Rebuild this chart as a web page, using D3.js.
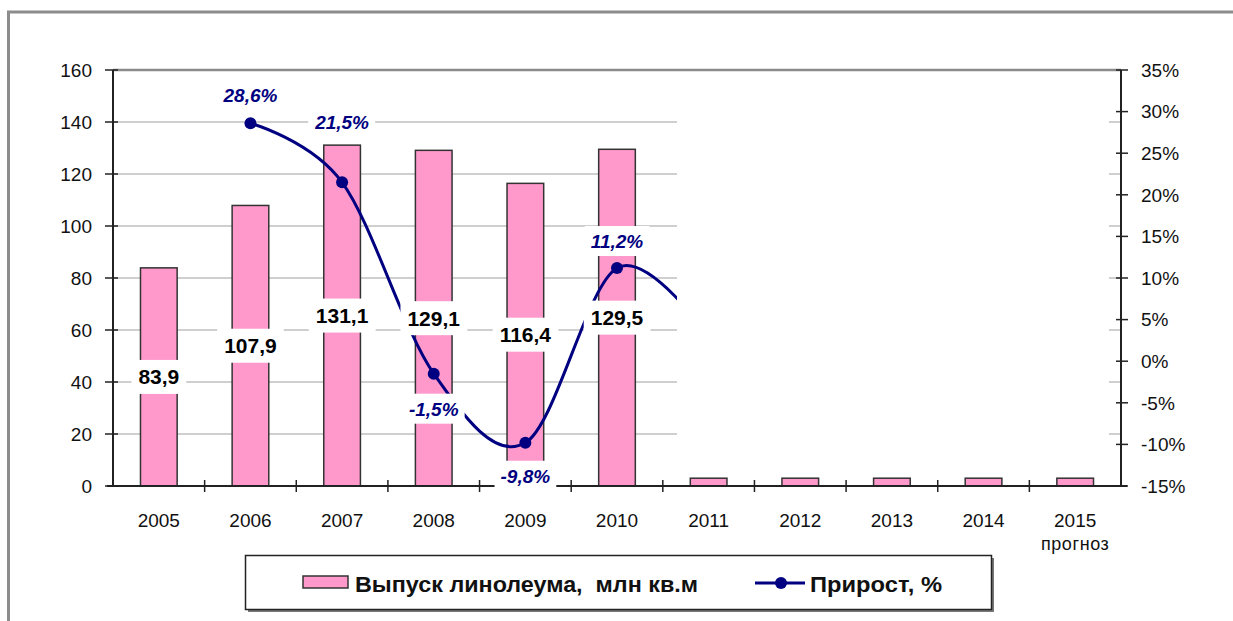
<!DOCTYPE html>
<html>
<head>
<meta charset="utf-8">
<script src="https://cdn.jsdelivr.net/npm/d3@7"></script>
<style>
  body { margin: 0; background: #fff; }
  svg { display: block; font-family: "Liberation Sans", Arial, sans-serif; }
</style>
</head>
<body>
<div id="chart"></div>
<script>
// data
var years = ["2005", "2006", "2007", "2008", "2009", "2010", "2011", "2012", "2013", "2014", "2015"];
var output = [83.9, 107.9, 131.1, 129.1, 116.4, 129.5, 3, 3, 3, 3, 3];   // млн кв.м
var outputLabels = ["83,9", "107,9", "131,1", "129,1", "116,4", "129,5"];
var growthYears = ["2006", "2007", "2008", "2009", "2010", "2011"];
var growth = [28.6, 21.5, -1.5, -9.8, 11.2, 3.0];   // 2011 is hidden behind the white patch
var growthLabels = ["28,6%", "21,5%", "-1,5%", "-9,8%", "11,2%"];
var leftTicks = [0, 20, 40, 60, 80, 100, 120, 140, 160];
var rightTicks = [-15, -10, -5, 0, 5, 10, 15, 20, 25, 30, 35];

// label offsets from the marker (layout only)
var growthLabelDy = [-28, -60, 35, 33, -27];

var width = 1233, height = 621;
var plot = {left: 113, right: 1121, top: 70, bottom: 486};
var navy = "#000080", pink = "#ff99cc";

var svg = d3.select("#chart").append("svg")
  .attr("width", width)
  .attr("height", height);

// outer frame (runs off the right and bottom edges)
svg.append("rect")
  .attr("x", 8.5).attr("y", 12)
  .attr("width", 1300).attr("height", 700)
  .attr("fill", "#fff")
  .attr("stroke", "#8c8c8c")
  .attr("stroke-width", 3);

var x = d3.scaleBand()
  .domain(years)
  .range([plot.left, plot.right])
  .padding(0);

var yLeft = d3.scaleLinear()
  .domain([0, 160])
  .range([plot.bottom, plot.top]);

var yRight = d3.scaleLinear()
  .domain([-15, 35])
  .range([plot.bottom, plot.top]);

// gridlines
svg.append("g")
  .selectAll("line")
  .data(leftTicks.slice(1, -1))
  .enter().append("line")
    .attr("x1", plot.left).attr("x2", plot.right)
    .attr("y1", function(d) { return yLeft(d); })
    .attr("y2", function(d) { return yLeft(d); })
    .attr("stroke", "#cfcfcf")
    .attr("stroke-width", 2);

svg.append("line")
  .attr("x1", plot.left).attr("x2", plot.right)
  .attr("y1", yLeft(160)).attr("y2", yLeft(160))
  .attr("stroke", "#8a8a8a")
  .attr("stroke-width", 2.5);

// bars
var barW = x.bandwidth() * 0.4;
svg.append("g")
  .selectAll("rect")
  .data(output)
  .enter().append("rect")
    .attr("x", function(d, i) { return x(years[i]) + (x.bandwidth() - barW) / 2; })
    .attr("y", function(d) { return yLeft(d); })
    .attr("width", barW)
    .attr("height", function(d) { return plot.bottom - yLeft(d); })
    .attr("fill", pink)
    .attr("stroke", "#333")
    .attr("stroke-width", 1.5);

// growth line, smoothed like excel
var pts = growth.map(function(d, i) {
  return [x(growthYears[i]) + x.bandwidth() / 2, yRight(d)];
});

var line = d3.line().curve(d3.curveCardinal.tension(0));

svg.append("path")
  .attr("d", line(pts))
  .attr("fill", "none")
  .attr("stroke", navy)
  .attr("stroke-width", 3);

svg.append("g")
  .selectAll("circle")
  .data(pts)
  .enter().append("circle")
    .attr("cx", function(d) { return d[0]; })
    .attr("cy", function(d) { return d[1]; })
    .attr("r", 6)
    .attr("fill", navy);

// white patch over the forecast part of the original picture
svg.append("rect")
  .attr("x", 677).attr("y", plot.top + 3)
  .attr("width", 1109 - 677).attr("height", 476 - plot.top - 3)
  .attr("fill", "#fff");

// axes
var axisColor = "#222";
svg.append("line")
  .attr("x1", plot.left).attr("x2", plot.left)
  .attr("y1", plot.top).attr("y2", plot.bottom)
  .attr("stroke", axisColor).attr("stroke-width", 2);
svg.append("line")
  .attr("x1", plot.right).attr("x2", plot.right)
  .attr("y1", plot.top).attr("y2", plot.bottom)
  .attr("stroke", axisColor).attr("stroke-width", 2);
svg.append("line")
  .attr("x1", plot.left - 6).attr("x2", plot.right + 6)
  .attr("y1", plot.bottom).attr("y2", plot.bottom)
  .attr("stroke", axisColor).attr("stroke-width", 2);

// left ticks + labels
var lt = svg.append("g").selectAll("g").data(leftTicks).enter().append("g")
  .attr("transform", function(d) { return "translate(0," + yLeft(d) + ")"; });
lt.append("line")
  .attr("x1", plot.left - 8).attr("x2", plot.left + 5)
  .attr("stroke", axisColor).attr("stroke-width", 1.5);
lt.append("text")
  .attr("x", 92)
  .attr("dy", "0.36em")
  .attr("text-anchor", "end")
  .attr("font-size", "19px")
  .attr("fill", "#111")
  .text(function(d) { return d; });

// right ticks + labels
var rt = svg.append("g").selectAll("g").data(rightTicks).enter().append("g")
  .attr("transform", function(d) { return "translate(0," + yRight(d) + ")"; });
rt.append("line")
  .attr("x1", plot.right - 5).attr("x2", plot.right + 7)
  .attr("stroke", axisColor).attr("stroke-width", 1.5);
rt.append("text")
  .attr("x", 1141)
  .attr("dy", "0.36em")
  .attr("font-size", "19px")
  .attr("fill", "#111")
  .text(function(d) { return d + "%"; });

// category ticks + labels
svg.append("g").selectAll("line")
  .data(years.slice(1))
  .enter().append("line")
    .attr("x1", function(d) { return x(d); })
    .attr("x2", function(d) { return x(d); })
    .attr("y1", plot.bottom - 6).attr("y2", plot.bottom + 6)
    .attr("stroke", axisColor).attr("stroke-width", 1.5);

svg.append("g").selectAll("text")
  .data(years)
  .enter().append("text")
    .attr("x", function(d) { return x(d) + x.bandwidth() / 2; })
    .attr("y", 527)
    .attr("text-anchor", "middle")
    .attr("font-size", "19px")
    .attr("fill", "#111")
    .text(function(d) { return d; });

svg.append("text")
  .attr("x", x("2015") + x.bandwidth() / 2)
  .attr("y", 550)
  .attr("text-anchor", "middle")
  .attr("font-size", "18px")
  .attr("letter-spacing", "0.6px")
  .attr("fill", "#111")
  .text("прогноз");

// labels with white boxes behind them
function boxedLabel(g, cx, cy, txt, opts) {
  var t = g.append("text")
    .attr("x", cx).attr("y", cy)
    .attr("dy", "0.36em")
    .attr("text-anchor", "middle")
    .attr("font-size", opts.size)
    .attr("font-weight", "bold")
    .attr("font-style", opts.italic ? "italic" : "normal")
    .attr("fill", opts.color)
    .text(txt);
  var bb = t.node().getBBox();
  g.insert("rect", function() { return t.node(); })
    .attr("x", bb.x - opts.padX)
    .attr("y", cy - opts.boxH / 2)
    .attr("width", bb.width + opts.padX * 2)
    .attr("height", opts.boxH)
    .attr("fill", "#fff");
}

var barLabels = svg.append("g");
outputLabels.forEach(function(txt, i) {
  var cx = x(years[i]) + x.bandwidth() / 2;
  var cy = (yLeft(output[i]) + plot.bottom) / 2;
  boxedLabel(barLabels, cx, cy, txt, {size: "21px", color: "#000", padX: 7, boxH: 34});
});

var lineLabels = svg.append("g");
growthLabels.forEach(function(txt, i) {
  boxedLabel(lineLabels, pts[i][0], pts[i][1] + growthLabelDy[i], txt,
    {size: "19px", italic: true, color: navy, padX: 6, boxH: 30});
});

// legend
var lg = svg.append("g");
lg.append("rect")
  .attr("x", 248).attr("y", 558)
  .attr("width", 746).attr("height", 54)
  .attr("fill", "#777");
lg.append("rect")
  .attr("x", 245.5).attr("y", 555.5)
  .attr("width", 746).attr("height", 54)
  .attr("fill", "#fff")
  .attr("stroke", "#222")
  .attr("stroke-width", 1.5);
lg.append("rect")
  .attr("x", 303).attr("y", 576)
  .attr("width", 45).attr("height", 12)
  .attr("fill", pink)
  .attr("stroke", "#333")
  .attr("stroke-width", 1.5);
lg.append("text")
  .attr("x", 355).attr("y", 584)
  .attr("dy", "0.36em")
  .attr("font-size", "22px")
  .attr("font-weight", "bold")
  .attr("fill", "#111")
  .attr("textLength", 343)
  .attr("lengthAdjust", "spacingAndGlyphs")
  .style("white-space", "pre")
  .text("Выпуск линолеума,  млн кв.м");
lg.append("line")
  .attr("x1", 755).attr("x2", 805)
  .attr("y1", 583).attr("y2", 583)
  .attr("stroke", navy).attr("stroke-width", 3);
lg.append("circle")
  .attr("cx", 781).attr("cy", 583).attr("r", 6)
  .attr("fill", navy);
lg.append("text")
  .attr("x", 810).attr("y", 584)
  .attr("dy", "0.36em")
  .attr("font-size", "22px")
  .attr("font-weight", "bold")
  .attr("fill", "#111")
  .attr("textLength", 132)
  .attr("lengthAdjust", "spacingAndGlyphs")
  .text("Прирост, %");
</script>
</body>
</html>
